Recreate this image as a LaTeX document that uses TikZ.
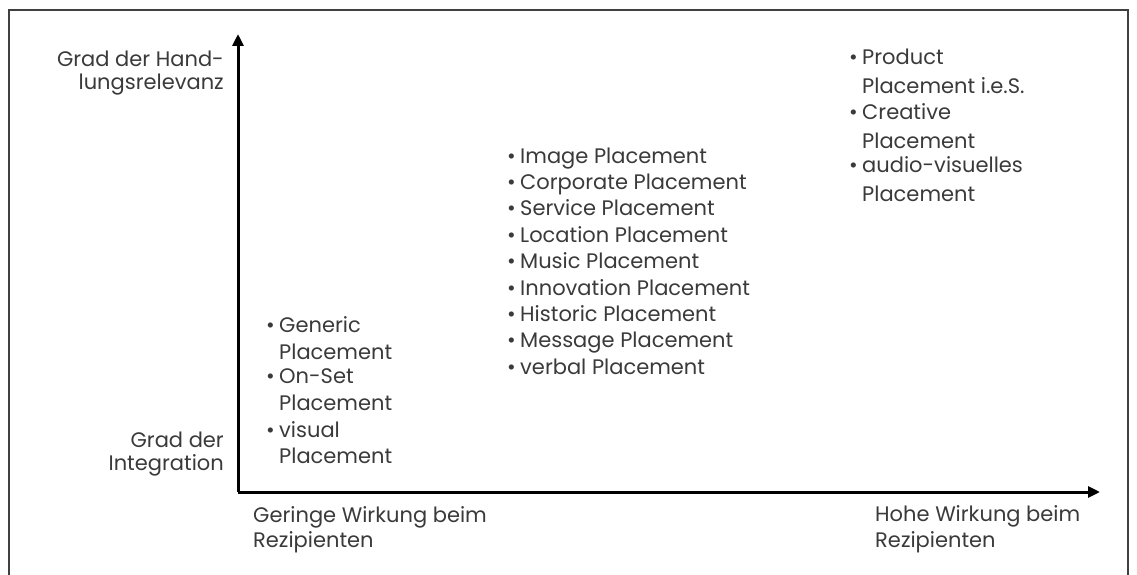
\documentclass[tikz,border=0pt]{standalone}
\usepackage{fontspec}
\setmainfont{Poppins}
\usetikzlibrary{arrows.meta}
\definecolor{txt}{HTML}{3A3A3A}
\tikzset{
  lbl/.style={inner sep=0pt, anchor=base west, text=txt, font=\fontsize{21}{24}\selectfont},
  lblr/.style={lbl, anchor=base east},
  axis/.style={line width=3pt, -{Triangle[length=12pt,width=11pt]}},
  frame/.style={line width=1.5pt, draw=black!75}
}
\begin{document}
\begin{tikzpicture}[x=1pt,y=-1pt]
\useasboundingbox (0,0) rectangle (1137,575);
\draw[frame] (9,575) -- (9,10) -- (1128,10) -- (1128,575);
% axes
\coordinate (o) at (238,492);
\coordinate (ytip) at (238,34);
\coordinate (xtip) at (1100,492);
\draw[axis] (o) -- (ytip);
\draw[axis] (o) -- (xtip);
% axis labels
\node[lblr] (yh1) at (224,67) {Grad der Hand-};
\node[lblr] (yh2) at (224,90) {lungsrelevanz};
\node[lblr] (yl1) at (224,447) {Grad der};
\node[lblr] (yl2) at (224,470) {Integration};
\node[lbl] (xl1) at (253,522) {Geringe Wirkung beim};
\node[lbl] (xl2) at (253,547) {Rezipienten};
\node[lbl] (xh1) at (875,521) {Hohe Wirkung beim};
\node[lbl] (xh2) at (875,547) {Rezipienten};
% left list
\foreach \t/\y/\b [count=\i] in {Generic/332/1, Placement/359/0, On-Set/383/1, Placement/410/0, visual/437/1, Placement/463/0}{
  \node[lbl] (l\i) at (279,\y) {\t};
  \ifnum\b=1 \node[lblr] (lb\i) at (275,\y) {\textbullet};\fi
}
% middle list
\foreach \t [count=\i] in {Image Placement, Corporate Placement, Service Placement, Location Placement, Music Placement, Innovation Placement, Historic Placement, Message Placement, verbal Placement}{
  \node[lbl] (m\i) at (520,{163+26.4*(\i-1)}) {\t};
  \node[lblr] (mb\i) at (516,{163+26.4*(\i-1)}) {\textbullet};
}
% right list
\foreach \t/\y/\b [count=\i] in {Product/65/1, Placement i.e.S./94/0, Creative/120/1, Placement/148/0, audio-visuelles/172/1, Placement/201/0}{
  \node[lbl] (r\i) at (862,\y) {\t};
  \ifnum\b=1 \node[lblr] (rb\i) at (858,\y) {\textbullet};\fi
}
\end{tikzpicture}
\end{document}
